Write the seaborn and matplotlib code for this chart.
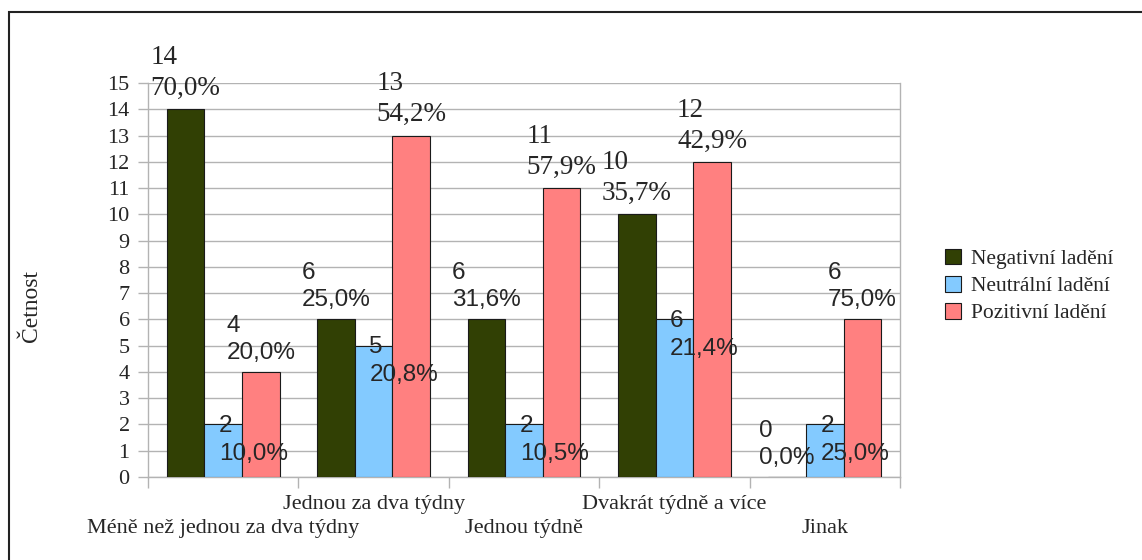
import pandas as pd
import matplotlib.pyplot as plt
import matplotlib.patches as mpatches
from matplotlib.transforms import ScaledTranslation
import seaborn as sns

# data
kategorie = ['Méně než jednou za dva týdny', 'Jednou za dva týdny', 'Jednou týdně',
             'Dvakrát týdně a více', 'Jinak']
serie = ['Negativní ladění', 'Neutrální ladění', 'Pozitivní ladění']
negativni = [14, 6, 6, 10, 0]
neutralni = [2, 5, 2, 6, 2]
pozitivni = [4, 13, 11, 12, 6]
procenta_neg = ['70,0%', '25,0%', '31,6%', '35,7%', '0,0%']
procenta_neu = ['10,0%', '20,8%', '10,5%', '21,4%', '25,0%']
procenta_poz = ['20,0%', '54,2%', '57,9%', '42,9%', '75,0%']

barvy = ['#314004', '#83caff', '#ff8080']

df = pd.DataFrame({
    'kategorie': kategorie * 3,
    'serie': [serie[0]] * 5 + [serie[1]] * 5 + [serie[2]] * 5,
    'cetnost': negativni + neutralni + pozitivni,
})

sns.set_style('white')
plt.rcParams['font.family'] = ['Liberation Serif', 'DejaVu Serif']

fig = plt.figure(figsize=(11.42, 5.6), dpi=100)
ax = fig.add_axes([148 / 1142, 83 / 560, 752 / 1142, 394 / 560])

sns.barplot(data=df, x='kategorie', y='cetnost', hue='serie', order=kategorie,
            hue_order=serie, palette=barvy, saturation=1, width=0.75, gap=0,
            edgecolor='#1a1a1a', linewidth=0.8, ax=ax, zorder=3)

ax.set_ylim(0, 15)
ax.set_xlim(-0.5, 4.5)
ax.set_yticks(range(0, 16))
ax.yaxis.grid(True, color='#b3b3b3', linewidth=1, zorder=0)
ax.set_axisbelow(True)
for s in ['left', 'bottom', 'right']:
    ax.spines[s].set_color('#b3b3b3')
    ax.spines[s].set_linewidth(1)
ax.spines['top'].set_visible(False)

ax.tick_params(axis='y', length=7.2, width=1, color='#b3b3b3', pad=6,
               labelsize=16, left=True)
ax.set_xticks(range(5))
ax.set_xticklabels(kategorie, fontsize=16)
ax.set_xticks([i - 0.5 for i in range(6)], minor=True)
ax.tick_params(axis='x', which='major', length=0, pad=13)
ax.tick_params(axis='x', which='minor', length=8, width=1, color='#b3b3b3', bottom=True)
# stupnovite popisky: liche kategorie o radek niz
for i, lab in enumerate(ax.get_xticklabels()):
    if i % 2 == 0:
        lab.set_transform(lab.get_transform() + ScaledTranslation(0, -0.24, fig.dpi_scale_trans))

ax.set_xlabel('')
ax.set_ylabel('Četnost', fontsize=17)
ax.yaxis.set_label_coords(-0.141, 0.434)

# popisky hodnot
procenta = [procenta_neg, procenta_neu, procenta_poz]
for j, cont in enumerate(ax.containers):
    for i, bar in enumerate(cont):
        v = bar.get_height()
        xc = bar.get_x() + bar.get_width() / 2
        text = f'{int(v)}\n{procenta[j][i]}'
        rodina = ['Liberation Serif'] if v >= 10 else ['Liberation Sans']
        velikost = 19.5 if v >= 10 else 17.5
        if j == 1:
            ax.annotate(text, (xc, v), xytext=(-3, 7), textcoords='offset points',
                        ha='left', va='top', multialignment='left',
                        family=rodina, fontsize=velikost, linespacing=1.35, zorder=5)
        else:
            ax.annotate(text, (xc, v), xytext=(0, 6), textcoords='offset points',
                        ha='center', va='bottom', multialignment='left',
                        family=rodina, fontsize=velikost, linespacing=1.3, zorder=5,
                        annotation_clip=False)

ax.get_legend().remove()
handles = [mpatches.Patch(facecolor=c, edgecolor='#1a1a1a', linewidth=0.8) for c in barvy]
fig.legend(handles, serie, loc='center left', bbox_to_anchor=(934 / 1142, 274 / 560),
           frameon=False, fontsize=15.5, handlelength=0.75, handleheight=0.75,
           handletextpad=0.45, labelspacing=0.32, borderpad=0)

# outer frame
fig.patches.append(mpatches.Rectangle((8.5 / 1142, -0.1), 1.2, (548.5 / 560) + 0.1,
                                      transform=fig.transFigure, fill=False,
                                      edgecolor='#222222', linewidth=1.5))

plt.savefig('out.png', dpi=100)
plt.close()
